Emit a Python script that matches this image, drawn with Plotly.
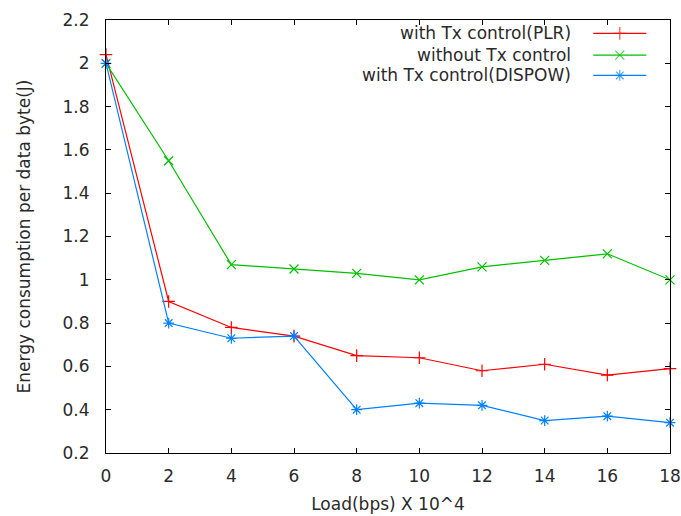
import plotly.graph_objects as go

load = [0, 2, 4, 6, 8, 10, 12, 14, 16, 18]
plr = [2.04, 0.90, 0.78, 0.74, 0.65, 0.64, 0.58, 0.61, 0.56, 0.59]
no_ctrl = [2.00, 1.55, 1.07, 1.05, 1.03, 1.00, 1.06, 1.09, 1.12, 1.00]
dispow = [2.00, 0.80, 0.73, 0.74, 0.40, 0.43, 0.42, 0.35, 0.37, 0.34]

names = ["with Tx control(PLR)", "without Tx control", "with Tx control(DISPOW)"]
colors = ["#ff0000", "#00c000", "#0080ff"]
symbols = ["cross-thin-open", "x-thin-open", "asterisk-open"]
series = [plr, no_ctrl, dispow]

FONT = "DejaVu Sans"
TXT = "#2a2a2a"

fig = go.Figure()
for name, vals, c, s in zip(names, series, colors, symbols):
    fig.add_trace(go.Scatter(
        x=load, y=vals, name=name, mode="lines+markers",
        line=dict(color=c, width=1.2),
        marker=dict(symbol=s, size=9, line=dict(color=c, width=1.2)),
        showlegend=False, cliponaxis=False,
    ))

# custom gnuplot-style legend (text on the left, sample on the right)
leg_rows = [0.969, 0.919, 0.872]
leg_x = [0.864, 0.911, 0.958]
for name, c, s, ry in zip(names, colors, symbols, leg_rows):
    fig.add_trace(go.Scatter(
        x=leg_x, y=[ry] * 3, xaxis="x2", yaxis="y2", mode="lines+markers",
        line=dict(color=c, width=1.2),
        marker=dict(symbol=s, size=[0, 9, 0], line=dict(color=c, width=1.2)),
        showlegend=False, hoverinfo="skip",
    ))
    fig.add_annotation(
        x=0.828, y=ry, xref="x2", yref="y2", text=name, showarrow=False,
        xanchor="right", yanchor="middle",
        font=dict(family=FONT, size=17, color=TXT),
    )

axis_common = dict(
    showgrid=False, zeroline=False, showline=True, linecolor="black",
    linewidth=1, mirror="ticks", ticks="inside", ticklen=5, tickcolor="black",
    tickwidth=1, tickfont=dict(family=FONT, size=17, color=TXT),
    automargin=False,
)

fig.update_layout(
    width=681, height=516,
    margin=dict(l=106, r=11, t=20, b=63),
    plot_bgcolor="white", paper_bgcolor="white",
    xaxis=dict(range=[0, 18], tickvals=load, ticklabelstandoff=8,
               title=dict(text="Load(bps) X 10^4", standoff=12,
                          font=dict(family=FONT, size=17, color=TXT)),
               **axis_common),
    yaxis=dict(range=[0.2, 2.2], dtick=0.2, tick0=0.2, ticklabelstandoff=12,
               tickformat="~g",
               title=dict(text="Energy consumption per data byte(J)", standoff=27,
                          font=dict(family=FONT, size=17, color=TXT)),
               **axis_common),
    xaxis2=dict(range=[0, 1], overlaying="x", visible=False),
    yaxis2=dict(range=[0, 1], overlaying="y", visible=False),
    showlegend=False,
)

fig.write_html("out.html")
